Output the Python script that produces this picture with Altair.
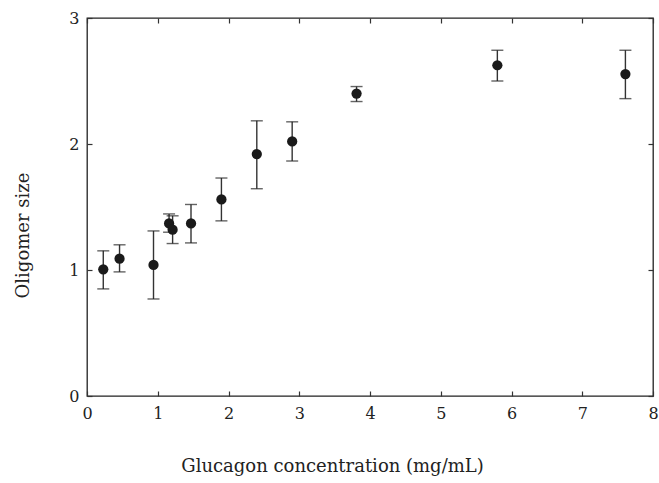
import altair as alt
import pandas as pd

conc = [0.23, 0.46, 0.94, 1.16, 1.21, 1.47, 1.90, 2.40, 2.90, 3.81, 5.80, 7.61]
size = [1.005, 1.09, 1.04, 1.37, 1.32, 1.37, 1.56, 1.92, 2.02, 2.40, 2.625, 2.555]
err_lo = [0.85, 0.985, 0.77, 1.30, 1.21, 1.215, 1.39, 1.645, 1.865, 2.337, 2.50, 2.36]
err_hi = [1.152, 1.20, 1.31, 1.445, 1.43, 1.52, 1.73, 2.184, 2.176, 2.456, 2.744, 2.744]

df = pd.DataFrame({"conc": conc, "size": size, "lo": err_lo, "hi": err_hi})

FONT = "DejaVu Serif"
xscale = alt.Scale(domain=[0, 8], nice=False, zero=False)
yscale = alt.Scale(domain=[0, 3], nice=False, zero=False)

x_axis = alt.Axis(
    title="Glucagon concentration (mg/mL)", values=list(range(9)), format="d",
    offset=-5, tickSize=5, domain=False, grid=False, labelPadding=9,
    labelFlush=False,
    titleX=245, titleY=75, titleAnchor="start", titleAlign="center",
    titleBaseline="middle",
)
y_axis = alt.Axis(
    title="Oligomer size", values=[0, 1, 2, 3], format="d",
    offset=-5, tickSize=5, domain=False, grid=False, labelPadding=8,
    labelFlush=False,
    titleX=-69, titleY=217, titleAlign="center", titleBaseline="middle",
    titleAngle=-90, titleAnchor="start",
)
x_top = alt.Axis(orient="top", title=None, labels=False, values=list(range(9)),
                 offset=-5, tickSize=5, domain=False, grid=False)
y_right = alt.Axis(orient="right", title=None, labels=False, values=[0, 1, 2, 3],
                   offset=-5, tickSize=5, domain=False, grid=False)

base = alt.Chart(df)

frame_ticks = base.mark_point(opacity=0).encode(
    x=alt.X("conc:Q", scale=xscale, axis=x_top),
    y=alt.Y("size:Q", scale=yscale, axis=y_right),
)

rules = base.mark_rule(color="#333333", strokeWidth=1.4).encode(
    x=alt.X("conc:Q", scale=xscale, axis=x_axis),
    y=alt.Y("lo:Q", scale=yscale, axis=y_axis),
    y2="hi:Q",
)
cap_lo = base.mark_tick(color="#222222", size=12, thickness=1.4, orient="horizontal").encode(
    x=alt.X("conc:Q", scale=xscale, axis=None), y=alt.Y("lo:Q", scale=yscale, axis=None))
cap_hi = base.mark_tick(color="#222222", size=12, thickness=1.4, orient="horizontal").encode(
    x=alt.X("conc:Q", scale=xscale, axis=None), y=alt.Y("hi:Q", scale=yscale, axis=None))
points = base.mark_circle(color="#1a1a1a", size=105, opacity=1).encode(
    x=alt.X("conc:Q", scale=xscale, axis=None), y=alt.Y("size:Q", scale=yscale, axis=None))

chart = alt.layer(rules, cap_lo, cap_hi, points, frame_ticks).resolve_axis(
    x="independent", y="independent"
).properties(
    width=566, height=378,
    background="white",
    autosize=alt.AutoSizeParams(type="none"),
    padding={"left": 87, "top": 18, "right": 6, "bottom": 87},
).configure_view(
    stroke="#222222", strokeWidth=1.3
).configure_axis(
    labelFont=FONT, titleFont=FONT, labelFontSize=16, titleFontSize=18,
    labelColor="#222222", titleColor="#222222", tickColor="#333333",
    tickWidth=1.2, titleFontWeight="normal",
)

chart.save("out.html", embed_options={"renderer": "svg", "actions": False})
